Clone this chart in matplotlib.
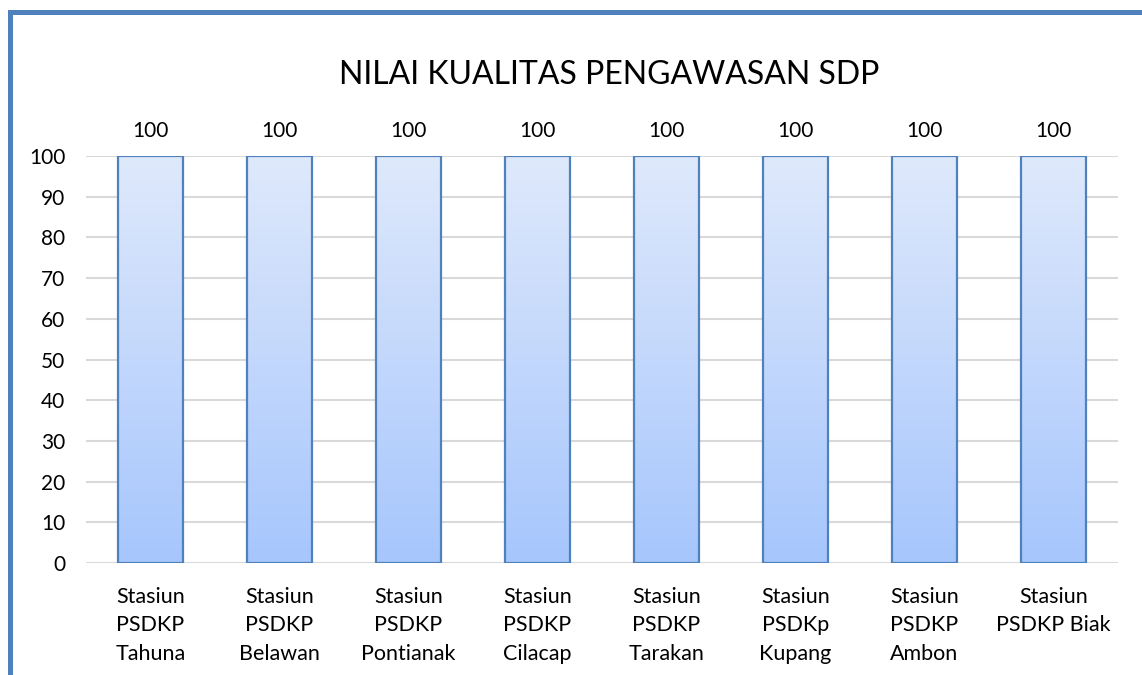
import matplotlib.pyplot as plt
import numpy as np
from matplotlib.lines import Line2D
from matplotlib.colors import LinearSegmentedColormap

plt.rcParams['font.family'] = ['Lato', 'DejaVu Sans']

# data
stasiun = ['Stasiun\nPSDKP\nTahuna', 'Stasiun\nPSDKP\nBelawan', 'Stasiun\nPSDKP\nPontianak',
           'Stasiun\nPSDKP\nCilacap', 'Stasiun\nPSDKP\nTarakan', 'Stasiun\nPSDKp\nKupang',
           'Stasiun\nPSDKP\nAmbon', 'Stasiun\nPSDKP Biak']
nilai = [100, 100, 100, 100, 100, 100, 100, 100]
yticks = [0, 10, 20, 30, 40, 50, 60, 70, 80, 90, 100]

fig = plt.figure(figsize=(11.42, 6.75), dpi=100)
ax = fig.add_axes([86/1142, 1-563/675, (1118-86)/1142, (563-156)/675])

x = np.arange(len(stasiun))
bars = ax.bar(x, nilai, width=0.51, facecolor='none', edgecolor='#4F81BD', linewidth=1.6, zorder=3)

# gradient isi batang
grad = np.linspace(0, 1, 256).reshape(-1, 1)
cmap = LinearSegmentedColormap.from_list('biru', ['#A6C6FD', '#DFE9FB'])
for b in bars:
    x0, y0 = b.get_x(), b.get_y()
    im = ax.imshow(grad, cmap=cmap, origin='lower', aspect='auto',
                   extent=[x0, x0 + b.get_width(), y0, y0 + b.get_height()], zorder=2.5)
    im.set_clip_path(b)

ax.bar_label(bars, labels=[str(v) for v in nilai], padding=11, fontsize=15, color='black')

ax.set_xlim(-0.5, len(stasiun) - 0.5)
ax.set_ylim(0, 100)
ax.set_yticks(yticks)
ax.set_xticks(x)
ax.set_xticklabels(stasiun, fontsize=15.5, linespacing=1.55)
ax.tick_params(axis='y', length=0, pad=15, labelsize=15)
ax.tick_params(axis='x', length=0, pad=17)
ax.grid(axis='y', color='#D9D9D9', linewidth=1.5, zorder=0)
ax.set_axisbelow(True)
for s in ax.spines.values():
    s.set_visible(False)

fig.text(609/1142, 1-75/675, 'NILAI KUALITAS PENGAWASAN SDP', fontsize=23,
         ha='center', va='center')

# bingkai biru
ytop = 1 - 11.5/675
xl = 9.5/1142
fig.add_artist(Line2D([xl, 1], [ytop, ytop], color='#4F81BD', linewidth=3.6, transform=fig.transFigure))
fig.add_artist(Line2D([xl, xl], [0, ytop], color='#4F81BD', linewidth=3.6, transform=fig.transFigure))

fig.savefig('out.png', dpi=100)
